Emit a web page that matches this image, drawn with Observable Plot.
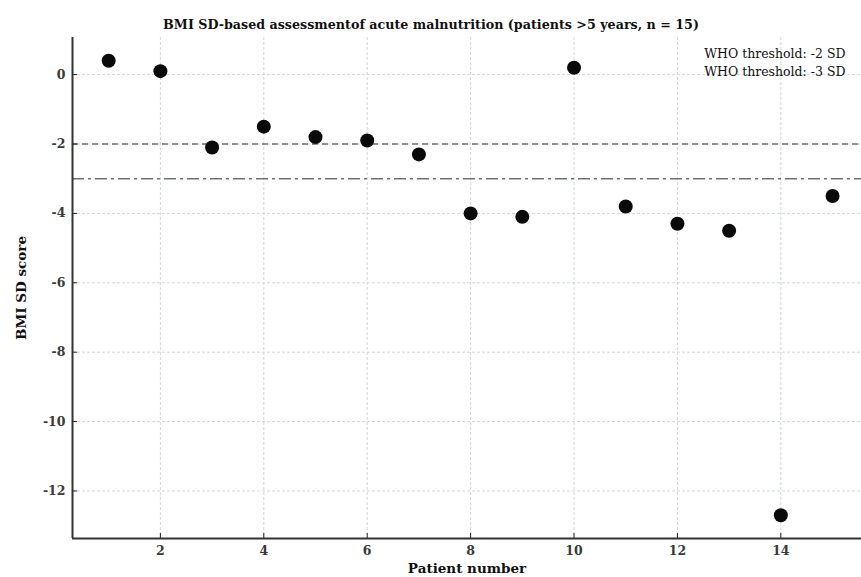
<!DOCTYPE html>
<html>
<head>
<meta charset="utf-8">
<script src="https://cdn.jsdelivr.net/npm/d3@7"></script>
<script src="https://cdn.jsdelivr.net/npm/@observablehq/plot@0.6"></script>
<style>
  body { margin: 0; background: #fff; }
  svg { font-family: "DejaVu Serif", serif; }
</style>
</head>
<body>
<div id="chart"></div>
<script>
const patients = [1,2,3,4,5,6,7,8,9,10,11,12,13,14,15];
const bmiSD = [0.4, 0.1, -2.1, -1.5, -1.8, -1.9, -2.3, -4.0, -4.1, 0.2, -3.8, -4.3, -4.5, -12.7, -3.5];
const xTicks = [2,4,6,8,10,12,14];
const yTicks = [0,-2,-4,-6,-8,-10,-12];
const thresholds = [-2, -3];
const thresholdLabels = ["WHO threshold: -2 SD", "WHO threshold: -3 SD"];
const xDomain = [0.3, 15.56];
const yDomain = [-13.37, 1.07];
const title = "BMI SD-based assessmentof acute malnutrition (patients >5 years, n = 15)";

const data = patients.map((p, i) => ({patient: p, sd: bmiSD[i]}));

const chart = Plot.plot({
  width: 861,
  height: 577,
  marginLeft: 72,
  marginRight: 0,
  marginTop: 37,
  marginBottom: 39,
  style: {fontFamily: "DejaVu Serif, serif", fontSize: "12px", color: "#222", background: "#fff"},
  x: {domain: xDomain},
  y: {domain: yDomain},
  marks: [
    Plot.gridX(xTicks, {stroke: "#cfd8d8", strokeOpacity: 1, strokeDasharray: "3,2"}),
    Plot.gridY(yTicks, {stroke: "#cfd8d8", strokeOpacity: 1, strokeDasharray: "3,2"}),
    Plot.ruleY([thresholds[0]], {stroke: "#6d7470", strokeWidth: 1.4, strokeDasharray: "6,4"}),
    Plot.ruleY([thresholds[1]], {stroke: "#6d7470", strokeWidth: 1.4, strokeDasharray: "12,4,3,4"}),
    Plot.axisX(xTicks, {tickSize: -5, tickPadding: 13, fontWeight: "bold", fill: "#3a3a3a", fontSize: 12.5,
      tickFormat: d => String(d),
      label: "Patient number", labelAnchor: "center", labelArrow: "none", labelOffset: 34}),
    Plot.axisY(yTicks, {tickSize: -5, tickPadding: 12, fontWeight: "bold", fill: "#3a3a3a", fontSize: 12.5,
      tickFormat: d => String(d),
      label: "BMI SD score", labelAnchor: "center", labelArrow: "none", labelOffset: 56}),
    Plot.ruleX([xDomain[0]], {stroke: "#333", strokeWidth: 2}),
    Plot.ruleY([yDomain[0]], {stroke: "#333", strokeWidth: 2}),
    Plot.dot(data, {x: "patient", y: "sd", r: 7, fill: "#0a0a0a", stroke: "none"}),
    Plot.text([thresholdLabels[0]], {frameAnchor: "top-right", dx: -16, dy: 12, fontSize: 12.5, fill: "#111", text: d => d}),
    Plot.text([thresholdLabels[1]], {frameAnchor: "top-right", dx: -16, dy: 30, fontSize: 12.5, fill: "#111", text: d => d}),
    Plot.text([title], {frameAnchor: "top", dx: -36, dy: -18, fontSize: 12.7, fontWeight: "bold", fill: "#111", text: d => d})
  ]
});
// enlarge axis titles to match the reference
d3.select(chart).selectAll("[aria-label='x-axis label'] text, [aria-label='y-axis label'] text")
  .style("font-size", "13.5px").style("font-weight", "bold").style("fill", "#111");
document.getElementById("chart").append(chart);
</script>
</body>
</html>
